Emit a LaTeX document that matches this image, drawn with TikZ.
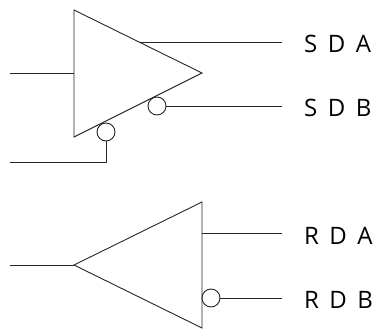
\documentclass[tikz,border=0pt]{standalone}
\usepackage{fontspec}
\setmainfont{Open Sans}
\newfontfamily\labfamily[WordSpace=1.68]{Open Sans}
\tikzset{
  wire/.style={draw=black!85,line width=0.9pt},
  bubble/.style={circle,draw=black!85,line width=0.9pt,minimum size=18pt,inner sep=0pt,outer sep=0pt},
  lab/.style={anchor=base west,inner sep=0pt,font=\labfamily\fontsize{24}{28}\selectfont},
}
\begin{document}
\begin{tikzpicture}[x=1pt,y=-1pt]
\useasboundingbox (0,0) rectangle (376,329);
% sender
\coordinate (t1a) at (74,10);
\coordinate (t1b) at (74,137);
\coordinate (t1c) at (202,73);
\coordinate (in1) at (10,73);
\coordinate (in1e) at (74,73);
\coordinate (o1s) at (139,42);
\coordinate (o1e) at (282,42);
\coordinate (o2e) at (282,106);
\coordinate (in2) at (10,162);
\coordinate (in2c) at (106,162);
\node[bubble] (b1) at (157,106) {};
\node[bubble] (b2) at (106,132) {};
\draw[wire,line join=miter] (t1a) -- (t1b) -- (t1c) -- cycle;
\draw[wire] (in1) -- (in1e);
\draw[wire] (o1s) -- (o1e);
\draw[wire] (b1.east) -- (o2e);
\draw[wire] (b2.south) -- (in2c) -- (in2);
% receiver
\coordinate (t2a) at (74,265);
\coordinate (t2b) at (202,202);
\coordinate (t2c) at (202,328);
\coordinate (in3) at (10,265);
\coordinate (o3s) at (202,233);
\coordinate (o3e) at (282,233);
\coordinate (o4e) at (282,298);
\node[bubble] (b3) at (211,298) {};
\draw[wire,line join=miter] (t2a) -- (t2b) -- (t2c) -- cycle;
\draw[wire] (in3) -- (t2a);
\draw[wire] (o3s) -- (o3e);
\draw[wire] (b3.east) -- (o4e);
% labels
\node[lab] (sda) at (304,53) {S D A};
\node[lab] (sdb) at (304,116.5) {S D B};
\node[lab] (rda) at (304,245) {R D A};
\node[lab] (rdb) at (304,309) {R D B};
\end{tikzpicture}
\end{document}
